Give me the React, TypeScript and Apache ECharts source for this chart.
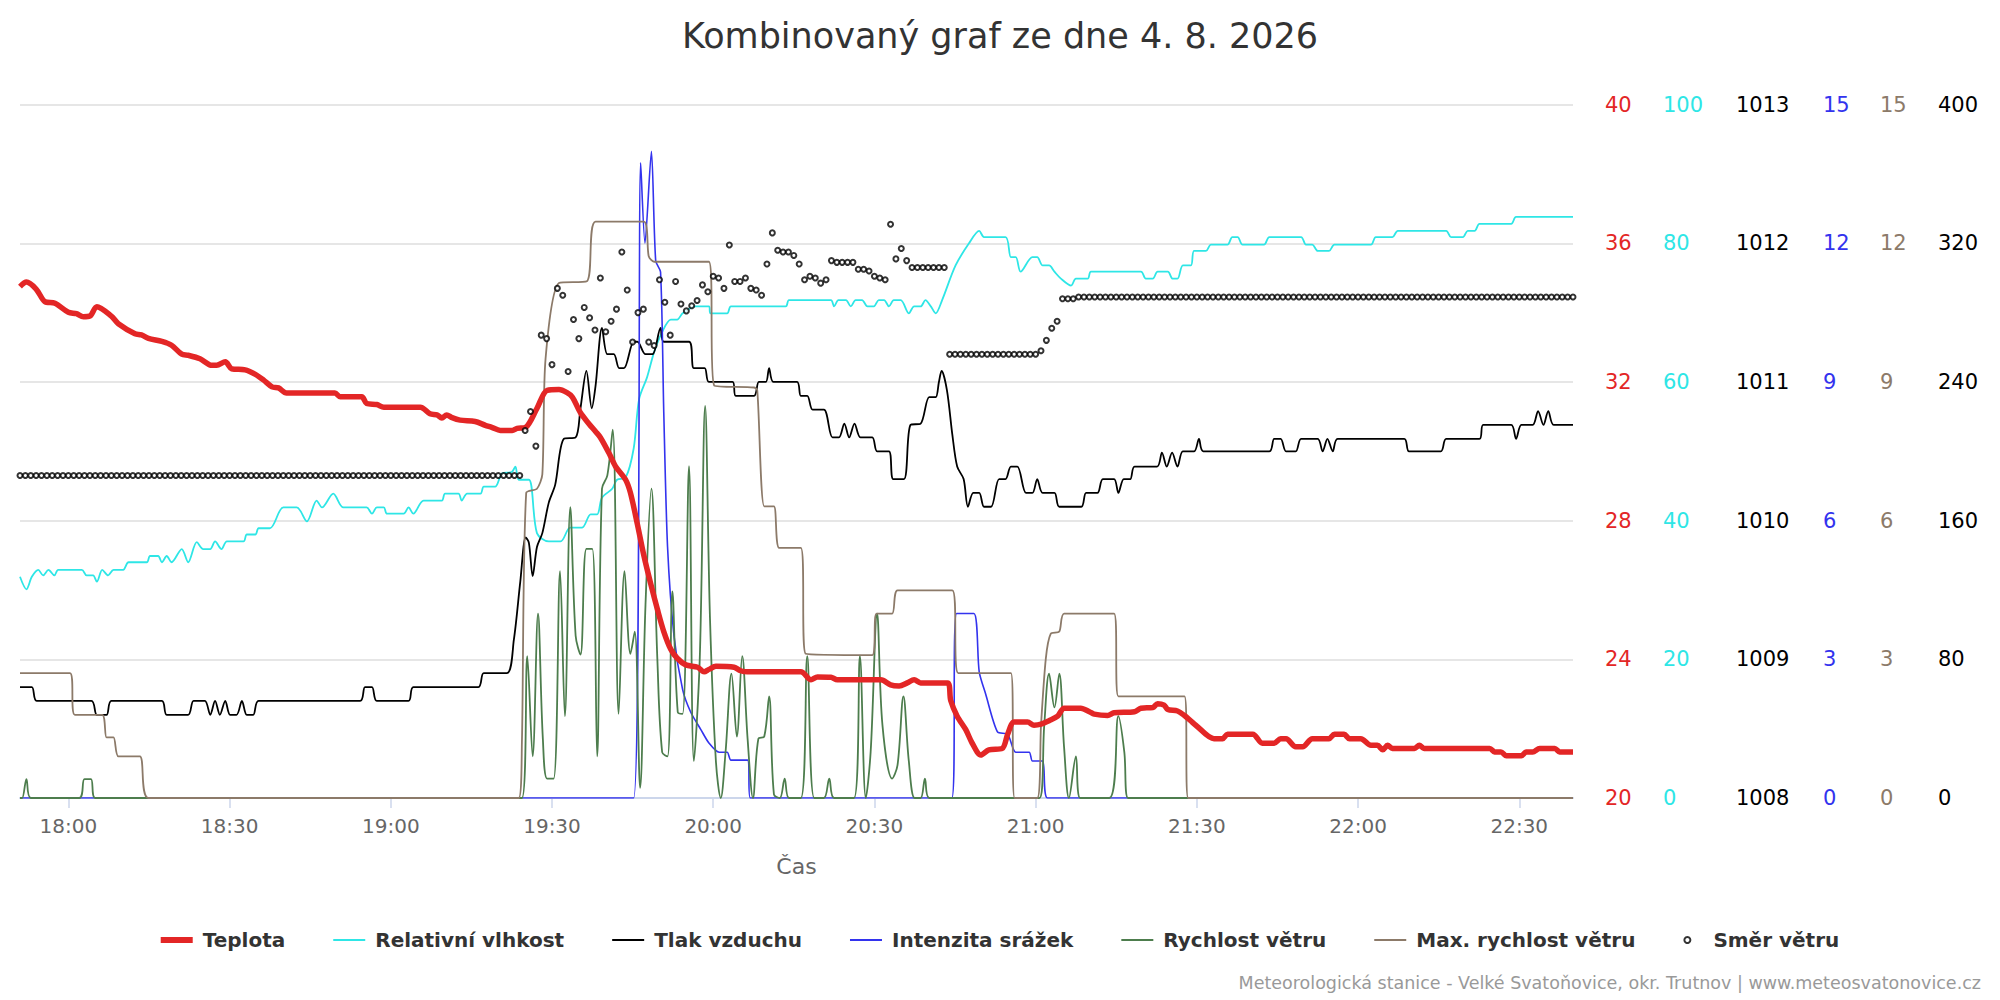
import React, { useEffect, useRef } from 'react';
import * as echarts from 'echarts';

const FONT = '"DejaVu Sans", Verdana, sans-serif';

// x values are minutes after 18:00 (negative = before 18:00)
const X_MIN = -9; // 17:51
const X_MAX = 280; // 22:40
const timeTicks = [0, 30, 60, 90, 120, 150, 180, 210, 240, 270];

const titleText = 'Kombinovaný graf ze dne 4. 8. 2026';
const creditsText = 'Meteorologická stanice - Velké Svatoňovice, okr. Trutnov | www.meteosvatonovice.cz';
const xAxisName = 'Čas';

const seriesNames = [
  'Teplota',
  'Relativní vlhkost',
  'Tlak vzduchu',
  'Intenzita srážek',
  'Rychlost větru',
  'Max. rychlost větru',
  'Směr větru',
];

// Teplota [°C]
const tempData = [
  [-9, 34.75], [-7.8, 34.88], [-6, 34.68], [-4.4, 34.32], [-2.5, 34.27], [0, 34.01], [1.5, 33.97], [2.8, 33.88], [4, 33.9],
  [5.3, 34.17], [8, 33.9], [9.3, 33.68], [12.4, 33.39], [13.6, 33.36], [14.9, 33.26], [17.4, 33.17], [19.2, 33.06],
  [21.1, 32.8], [22.3, 32.77], [24.5, 32.67], [26.7, 32.48], [27.6, 32.48], [29.2, 32.58], [30.4, 32.38], [32.9, 32.35],
  [34.8, 32.22], [36.3, 32.06], [37.9, 31.86], [39.1, 31.83], [40.6, 31.68], [49.6, 31.68], [50.6, 31.57], [54.6, 31.57],
  [55.5, 31.38], [57.4, 31.35], [58.7, 31.27], [65.5, 31.27], [67.3, 31.08], [68.6, 31.05], [69.5, 30.96], [70.4, 31.05],
  [71.4, 30.97], [72.9, 30.9], [75.7, 30.86], [77.6, 30.75], [78.8, 30.69], [80.4, 30.6], [82.6, 30.6], [83.5, 30.66],
  [85.1, 30.69], [87.2, 31.24], [89.1, 31.76], [91.3, 31.78], [92.8, 31.69], [93.8, 31.56], [95.3, 31.11], [96.9, 30.79],
  [98.1, 30.57], [99, 30.4], [100.6, 29.95], [101.8, 29.57], [103.7, 29.18], [104.6, 28.8], [105.9, 27.89], [107.1, 26.99],
  [108.4, 26.16], [109.6, 25.45], [110.8, 24.8], [112.1, 24.29], [113.3, 24.03], [114.9, 23.84], [117.1, 23.77],
  [118.3, 23.64], [119.2, 23.71], [120.5, 23.8], [123.9, 23.77], [125.1, 23.67], [126.4, 23.64], [136.3, 23.64],
  [138.2, 23.41], [139.4, 23.49], [141.9, 23.48], [143.1, 23.41], [151.2, 23.41], [153, 23.26], [154.6, 23.23],
  [156.1, 23.32], [157.4, 23.41], [158.6, 23.32], [163.6, 23.32], [164.2, 22.81], [165.4, 22.36], [167, 21.97],
  [168.2, 21.58], [169.8, 21.24], [171.3, 21.39], [173.8, 21.43], [174.8, 21.84], [176, 22.19], [178.5, 22.19],
  [179.7, 22.1], [181, 22.13], [182.5, 22.23], [184.1, 22.36], [185.3, 22.59], [188.4, 22.59], [190, 22.49],
  [190.9, 22.42], [193.4, 22.38], [194.6, 22.46], [198.4, 22.49], [199.6, 22.59], [201.8, 22.61], [202.7, 22.72],
  [203.9, 22.68], [204.6, 22.55], [206.4, 22.51], [207.7, 22.38], [208.9, 22.22], [209.8, 22.1], [213.2, 21.71],
  [214.8, 21.71], [215.7, 21.84], [220.4, 21.84], [222.2, 21.58], [224.4, 21.58], [225.6, 21.71], [226.6, 21.71],
  [228.4, 21.48], [229.7, 21.48], [231.5, 21.71], [234.6, 21.71], [235.6, 21.84], [237.4, 21.84], [238.4, 21.71],
  [240.5, 21.71], [242.4, 21.52], [243.6, 21.52], [244.6, 21.39], [245.5, 21.52], [246.4, 21.43], [250.5, 21.43],
  [251.4, 21.52], [252.3, 21.43], [264.5, 21.43], [265.4, 21.33], [266.6, 21.33], [267.6, 21.22], [270.4, 21.22],
  [271.3, 21.33], [272.5, 21.33], [273.8, 21.43], [276.6, 21.43], [277.5, 21.33], [280, 21.33],
];

// Relativní vlhkost [%]
const humidityData = [
  [-9, 31.9], [-7.8, 30.1], [-6.8, 31.9], [-5.6, 32.9], [-4.7, 32.1], [-3.7, 32.9], [-2.6, 32.1], [-1.9, 32.9], [2.5, 32.9],
  [3.4, 32.1], [4.6, 32.1], [5.3, 31.2], [6.3, 32.9], [7.4, 32.1], [8.4, 32.9], [10.2, 32.9], [11.2, 34], [14.6, 34],
  [15.2, 34.9], [16.7, 34.9], [17.4, 34], [18.3, 34.9], [19.2, 34], [21.1, 35.9], [22.3, 34], [23.9, 36.9], [25.1, 35.9],
  [26.4, 35.9], [27.3, 37], [28.5, 35.9], [29.5, 37], [32.6, 37], [33.2, 38], [34.8, 38], [35.4, 38.9], [37.5, 38.9],
  [40, 41.9], [42.5, 41.9], [44.4, 39.9], [46.2, 42.9], [47.2, 41.9], [49.3, 43.9], [51.2, 41.9], [55.5, 41.9], [56.5, 41],
  [57.4, 41.9], [58.7, 41.9], [59.3, 41], [62.4, 41], [63.3, 41.9], [64.2, 41], [66.1, 42.9], [69.5, 42.9], [70.1, 43.9],
  [72.6, 43.9], [73.2, 42.9], [74.2, 43.9], [76.7, 43.9], [77.3, 44.9], [79.4, 44.9], [80.7, 46.8], [82.5, 47],
  [83.2, 47.8], [83.8, 45.9], [85.7, 45.9], [87.2, 38.2], [89.4, 37], [91.6, 37], [93.4, 39], [95.6, 39], [97.2, 40.9],
  [98.4, 40.9], [99.3, 43.3], [101.2, 44.6], [102.1, 45.9], [103.7, 46.2], [105.2, 50.4], [106.2, 57.5], [107.7, 60.7],
  [109, 64.3], [110.5, 67.2], [112.1, 69], [113.3, 69], [114.3, 69.9], [116.7, 70.9], [119.2, 70.9], [119.5, 69.9],
  [122.6, 69.9], [123.3, 70.9], [133.5, 70.9], [134.1, 71.8], [141.9, 71.8], [142.5, 70.9], [143.3, 71.8], [144.7, 71.8],
  [145.6, 70.9], [146.5, 71.8], [147.7, 71.8], [148.7, 70.9], [149.9, 70.9], [150.8, 71.8], [151.8, 71.8], [152.7, 70.9],
  [153.6, 71.8], [154.9, 71.8], [156.4, 69.9], [157.4, 70.9], [158.6, 70.9], [159.5, 71.8], [160.5, 70.9], [161.4, 69.9],
  [162.6, 71.8], [165.1, 76.8], [167.6, 80], [169.5, 81.8], [170.4, 80.9], [174.4, 80.9], [175.4, 78], [176.3, 78],
  [177.2, 75.9], [179.4, 78], [180.3, 78], [181.3, 76.8], [182.5, 76.8], [183.5, 75.9], [184.7, 74.9], [186.6, 73.9],
  [187.5, 74.9], [189.7, 74.9], [190.3, 75.9], [199.6, 75.9], [200.5, 74.9], [201.8, 74.9], [202.7, 75.9], [204.6, 75.9],
  [205.5, 74.9], [206.4, 74.9], [207.4, 76.8], [208.9, 76.8], [209.5, 78.9], [211.7, 78.9], [212.6, 79.8], [215.7, 79.8],
  [216.6, 80.9], [217.6, 80.9], [218.5, 79.8], [222.5, 79.8], [223.5, 80.9], [229.4, 80.9], [230.3, 79.8], [231.5, 79.8],
  [232.5, 78.9], [234.6, 78.9], [235.6, 79.8], [242.4, 79.8], [243.3, 80.9], [246.4, 80.9], [247.4, 81.8], [256.4, 81.8],
  [257.3, 80.9], [259.5, 80.9], [260.4, 81.8], [261.7, 81.8], [262.6, 82.8], [268.5, 82.8], [269.4, 83.8], [280, 83.8],
];

// Tlak vzduchu [hPa]
const pressureData = [
  [-9, 1008.8], [-6.8, 1008.8], [-5.9, 1008.7], [4.3, 1008.7], [5.3, 1008.6], [7.1, 1008.6], [8, 1008.7], [17.4, 1008.7],
  [18.3, 1008.6], [22.3, 1008.6], [23.3, 1008.7], [25.4, 1008.7], [26.4, 1008.6], [27.3, 1008.7], [28.2, 1008.6],
  [29.2, 1008.7], [30.1, 1008.6], [31.3, 1008.6], [32.3, 1008.7], [33.2, 1008.6], [34.4, 1008.6], [35.4, 1008.7],
  [54.3, 1008.7], [55.2, 1008.8], [56.5, 1008.8], [57.4, 1008.7], [63.3, 1008.7], [64.2, 1008.8], [76.3, 1008.8],
  [77.3, 1008.9], [81.6, 1008.9], [82.9, 1009.14], [84.1, 1009.56], [85.1, 1009.88], [85.7, 1009.84], [86.4, 1009.6],
  [87.2, 1009.81], [88.2, 1009.91], [89.4, 1010.13], [90.6, 1010.26], [92.2, 1010.59], [94.4, 1010.6], [95.3, 1010.81],
  [96.4, 1011.08], [97.4, 1010.81], [98.1, 1010.97], [99.3, 1011.39], [100.3, 1011.2], [101.5, 1011.2], [102.5, 1011.1],
  [103.4, 1011.1], [105.2, 1011.29], [105.9, 1011.29], [107.4, 1011.2], [108.7, 1011.2], [110.2, 1011.39],
  [110.8, 1011.29], [115.5, 1011.29], [116.4, 1011.1], [118.4, 1011.1], [119.2, 1011], [123.6, 1011], [124.2, 1010.9],
  [127.6, 1010.9], [128.5, 1011], [129.8, 1011], [130.4, 1011.1], [131.2, 1011], [135.6, 1011], [136.3, 1010.9],
  [137.5, 1010.9], [138.5, 1010.8], [140.6, 1010.8], [142.2, 1010.6], [143.4, 1010.6], [144.4, 1010.7], [145.3, 1010.6],
  [146.3, 1010.7], [147.4, 1010.6], [149.6, 1010.6], [150.5, 1010.5], [152.7, 1010.5], [153.5, 1010.3], [155.5, 1010.3],
  [156.7, 1010.69], [158.6, 1010.7], [160.2, 1010.89], [161.4, 1010.89], [162, 1011], [162.5, 1011.08], [163.5, 1010.94],
  [164.5, 1010.62], [165.4, 1010.39], [166.6, 1010.3], [167.4, 1010.1], [168.4, 1010.2], [169.5, 1010.2], [170.4, 1010.1],
  [171.7, 1010.1], [173.2, 1010.3], [174.4, 1010.3], [175.4, 1010.39], [176.6, 1010.39], [178.2, 1010.2], [179.4, 1010.2],
  [180.3, 1010.3], [181.3, 1010.2], [183.5, 1010.2], [184.4, 1010.1], [188.5, 1010.1], [189.4, 1010.2], [191.5, 1010.2],
  [192.5, 1010.3], [194.6, 1010.3], [195.4, 1010.2], [196.4, 1010.3], [197.6, 1010.3], [198.4, 1010.39], [202.6, 1010.39],
  [203.5, 1010.49], [204.4, 1010.39], [205.4, 1010.49], [206.4, 1010.39], [207.4, 1010.5], [209.5, 1010.5],
  [210.4, 1010.59], [211.2, 1010.5], [223.5, 1010.5], [224.4, 1010.59], [225.6, 1010.59], [226.6, 1010.5], [228.4, 1010.5],
  [229.4, 1010.59], [232.5, 1010.59], [233.4, 1010.5], [234.3, 1010.59], [235.3, 1010.5], [236.2, 1010.59],
  [248.6, 1010.59], [249.5, 1010.5], [255.4, 1010.5], [256.4, 1010.59], [262.6, 1010.59], [263.3, 1010.69],
  [268.5, 1010.69], [269.4, 1010.59], [270.4, 1010.69], [272.5, 1010.69], [273.5, 1010.79], [274.5, 1010.69],
  [275.4, 1010.79], [276.4, 1010.69], [280, 1010.69],
];

// Intenzita srážek [mm/h]
const rainData = [
  [-9, 0], [105.2, 0], [106.5, 13.74], [107.3, 12.0], [108.5, 13.99], [109.3, 11.62], [110.2, 11.38], [110.8, 8.34],
  [111.5, 5.44], [112.7, 3.51], [114.3, 2.35], [115.8, 1.86], [117.7, 1.48], [119.2, 1.19], [121.1, 0.99], [122.6, 0.99],
  [123.3, 0.82], [126.4, 0.82], [126.9, 0], [164.4, 0], [165.3, 3.99], [168.5, 3.99], [169.5, 2.73], [170.7, 2.25],
  [172.9, 1.43], [174.8, 1.38], [176.3, 0.99], [178.8, 0.99], [179.4, 0.8], [181.3, 0.8], [182.2, 0], [280, 0],
];

// Rychlost větru [m/s]
const windData = [
  [-9, 0], [-8.6, 0], [-7.8, 0.41], [-7.0, 0], [2.0, 0], [3.0, 0.41], [4.2, 0.41], [5.0, 0], [84.4, 0], [85.4, 3.07],
  [86.4, 0.9], [87.4, 3.99], [88.3, 1.28], [89.1, 0.42], [90.3, 0.42], [91.5, 4.91], [92.4, 1.77], [93.4, 6.29],
  [94.4, 3.51], [95.3, 3.1], [96.4, 5.39], [97.5, 5.39], [98.4, 0.9], [99.3, 6.69], [100.3, 6.98], [101.3, 7.97],
  [102.4, 1.82], [103.5, 4.91], [104.6, 3.12], [105.4, 3.6], [106.4, 0.22], [107.4, 4.18], [108.5, 6.69], [109.6, 3.02],
  [110.5, 0.99], [111.5, 0.9], [112.4, 4.47], [113.4, 1.86], [114.3, 1.82], [115.5, 7.18], [116.4, 0.8], [117.5, 3.02],
  [118.5, 8.48], [119.4, 3.89], [120.5, 0.8], [121.4, 0], [122.3, 1.0], [123.4, 2.69], [124.4, 1.33], [125.4, 3.07],
  [126.4, 1.28], [127.4, 0], [128.4, 1.28], [129.5, 1.33], [130.4, 2.2], [131.3, 0.08], [132.4, 0], [133.3, 0.42],
  [134.1, 0], [136.3, 0], [137.5, 3.07], [138.8, 0], [140.6, 0], [141.6, 0.42], [142.5, 0], [146.2, 0], [147.3, 3.07],
  [148.4, 0], [149.3, 1.0], [150.5, 3.99], [151.5, 1.57], [153.3, 0.42], [154.3, 0.71], [155.4, 2.2], [156.4, 0.8],
  [157.5, 0], [158.6, 0], [159.4, 0.42], [160.2, 0], [180.7, 0], [181.6, 1.57], [182.5, 2.69], [183.5, 1.96],
  [184.4, 2.69], [185.3, 1.09], [186.2, 0], [187.5, 0.9], [188.3, 0], [193.7, 0], [195.4, 1.77], [196.5, 1.0],
  [197.2, 0], [280, 0],
];

// Max. rychlost větru [m/s]
const gustData = [
  [-9, 2.7], [0.3, 2.7], [1.2, 1.8], [6.3, 1.8], [7.1, 1.31], [8.4, 1.31], [9.3, 0.9], [13.3, 0.9], [14.9, 0], [83.8, 0],
  [84.4, 1.2], [85.2, 6.6], [87.2, 6.69], [88.2, 7], [88.8, 9.5], [91.3, 11.14], [96.5, 11.18], [98.1, 12.47],
  [107.1, 12.47], [108, 11.72], [109, 11.6], [119.2, 11.6], [120.2, 8.92], [127.6, 8.88], [128.2, 8.82], [129.5, 6.31],
  [131.3, 6.31], [132.3, 5.41], [136.3, 5.41], [137.2, 3.12], [149.6, 3.09], [150.4, 3.99], [153.3, 3.99], [154.3, 4.49],
  [164.5, 4.49], [165.6, 2.7], [175.4, 2.7], [176.1, 0], [180.3, 0], [181, 1.57], [181.9, 3.02], [182.8, 3.55],
  [184.4, 3.6], [185.3, 3.99], [194.6, 3.99], [195.4, 2.2], [207.7, 2.2], [208.4, 0], [280, 0],
];

// Směr větru [°], one value per minute from 17:51 (t = -9)
const windDirStart = -9;
const windDirDeg = [
  186, 186, 186, 186, 186, 186, 186, 186, 186, 186, 186, 186, 186, 186, 186, 186, 186, 186, 186, 186,
  186, 186, 186, 186, 186, 186, 186, 186, 186, 186, 186, 186, 186, 186, 186, 186, 186, 186, 186, 186,
  186, 186, 186, 186, 186, 186, 186, 186, 186, 186, 186, 186, 186, 186, 186, 186, 186, 186, 186, 186,
  186, 186, 186, 186, 186, 186, 186, 186, 186, 186, 186, 186, 186, 186, 186, 186, 186, 186, 186, 186,
  186, 186, 186, 186, 186, 186, 186, 186, 186, 186, 186, 186, 186, 186,
  212, 223, 203, 267, 265, 250, 294, 290, 246, 276, 265, 283, 277, 270, 300, 269, 275, 282, 315, 293,
  263, 280, 282, 263, 261, 299, 286, 267, 298, 285, 281, 284, 287, 296, 292, 301, 300, 294, 319, 298,
  298, 300, 294, 293, 290, 308, 326, 316, 315, 315, 313, 308, 299, 301, 300, 297, 299, 310, 309, 309,
  309, 309, 305, 305, 304, 301, 300, 299, 331, 311, 317, 310, 306, 306, 306, 306, 306, 306, 306,
  256, 256, 256, 256, 256, 256, 256, 256, 256, 256, 256, 256, 256, 256, 256, 256, 256,
  258, 264, 271, 275, 288, 288, 288,
  289, 289, 289, 289, 289, 289, 289, 289, 289, 289, 289, 289, 289, 289, 289, 289, 289, 289, 289, 289,
  289, 289, 289, 289, 289, 289, 289, 289, 289, 289, 289, 289, 289, 289, 289, 289, 289, 289, 289, 289,
  289, 289, 289, 289, 289, 289, 289, 289, 289, 289, 289, 289, 289, 289, 289, 289, 289, 289, 289, 289,
  289, 289, 289, 289, 289, 289, 289, 289, 289, 289, 289, 289, 289, 289, 289, 289, 289, 289, 289, 289,
  289, 289, 289, 289, 289, 289, 289, 289, 289, 289, 289, 289, 289,
];

// Axis scales (min, max, step) for the six right-hand axes
const tempAxis = [20, 40, 4];
const humidityAxis = [0, 100, 20];
const pressureAxis = [1008, 1013, 1];
const rainAxis = [0, 15, 3];
const windAxis = [0, 15, 3];
const dirAxis = [0, 400, 80];

const COLORS = {
  temp: '#e32626',
  hum: '#2ee6e6',
  pres: '#000000',
  rain: '#3333ee',
  wind: '#4d7d4d',
  gust: '#8c7a69',
  dir: '#000000',
};

function fmtTime(v: number) {
  const total = 18 * 60 + Math.round(v);
  const h = Math.floor(total / 60);
  const m = total % 60;
  return `${h}:${m < 10 ? '0' + m : m}`;
}

function buildOption() {
  const axisScales = [tempAxis, humidityAxis, pressureAxis, rainAxis, windAxis, dirAxis];
  const axisColors = [COLORS.temp, COLORS.hum, '#000000', COLORS.rain, COLORS.gust, '#000000'];
  const labelMargins = [32, 90, 163, 250, 307, 365];

  const yAxis = axisScales.map((s, i) => ({
    type: 'value',
    position: 'right',
    min: s[0],
    max: s[1],
    interval: s[2],
    axisLine: { show: false },
    axisTick: { show: false },
    splitLine: { show: i === 0, lineStyle: { color: '#e6e6e6', width: 2 } },
    axisLabel: {
      color: axisColors[i],
      fontSize: 21,
      fontFamily: FONT,
      margin: labelMargins[i],
      formatter: (v: number) => String(v),
    },
  }));

  const thinIcon = 'path://M0,0h32v2h-32z';

  return {
    animation: false,
    backgroundColor: '#ffffff',
    textStyle: { fontFamily: FONT },
    title: {
      text: titleText,
      left: 'center',
      top: 13,
      textStyle: { fontFamily: FONT, fontSize: 35, fontWeight: 'normal', color: '#333333' },
    },
    grid: { left: 20, right: 427, top: 104.6, bottom: 202, containLabel: false },
    legend: {
      left: 'center',
      top: 925,
      itemWidth: 32,
      itemHeight: 6,
      itemGap: 48,
      itemStyle: { borderWidth: 0 },
      textStyle: { fontFamily: FONT, fontSize: 20, fontWeight: 'bold', color: '#333333', padding: [0, 0, 0, 5] },
      data: [
        { name: seriesNames[0], icon: 'rect' },
        { name: seriesNames[1], icon: thinIcon },
        { name: seriesNames[2], icon: thinIcon },
        { name: seriesNames[3], icon: thinIcon },
        { name: seriesNames[4], icon: thinIcon },
        { name: seriesNames[5], icon: thinIcon },
        { name: seriesNames[6], icon: 'emptyCircle' },
      ],
    },
    xAxis: {
      type: 'value',
      min: X_MIN,
      max: X_MAX,
      name: xAxisName,
      nameLocation: 'middle',
      nameGap: 57,
      nameTextStyle: { color: '#666666', fontSize: 22, fontFamily: FONT },
      axisLine: { show: true, onZero: false, lineStyle: { color: '#ccd6eb', width: 2 } },
      axisTick: { show: true, length: 10, customValues: timeTicks, lineStyle: { color: '#ccd6eb', width: 1.5 } },
      axisLabel: {
        customValues: timeTicks,
        formatter: (v: number) => fmtTime(v),
        color: '#666666',
        fontSize: 20,
        fontFamily: FONT,
        margin: 18,
      },
      splitLine: { show: false },
    },
    yAxis,
    graphic: [
      {
        type: 'text',
        right: 19,
        top: 974,
        style: { text: creditsText, fill: '#999999', font: `17.5px ${FONT}` },
      },
    ],
    series: [
      {
        name: seriesNames[0], type: 'line', yAxisIndex: 0, data: tempData, color: COLORS.temp,
        symbol: 'none', smooth: 0.3, lineStyle: { width: 5.5, color: COLORS.temp }, z: 3,
      },
      {
        name: seriesNames[1], type: 'line', yAxisIndex: 1, data: humidityData, color: COLORS.hum,
        symbol: 'none', smooth: 0.3, lineStyle: { width: 1.8, color: COLORS.hum }, z: 2,
      },
      {
        name: seriesNames[2], type: 'line', yAxisIndex: 2, data: pressureData, color: COLORS.pres,
        symbol: 'none', smooth: 0.3, lineStyle: { width: 1.8, color: COLORS.pres }, z: 2,
      },
      {
        name: seriesNames[3], type: 'line', yAxisIndex: 3, data: rainData, color: COLORS.rain,
        symbol: 'none', smooth: 0.25, lineStyle: { width: 1.6, color: COLORS.rain }, z: 2,
      },
      {
        name: seriesNames[4], type: 'line', yAxisIndex: 4, data: windData, color: COLORS.wind,
        symbol: 'none', smooth: 0.35, lineStyle: { width: 1.8, color: COLORS.wind }, z: 2,
      },
      {
        name: seriesNames[5], type: 'line', yAxisIndex: 4, data: gustData, color: COLORS.gust,
        symbol: 'none', smooth: 0.25, lineStyle: { width: 1.8, color: COLORS.gust }, z: 2,
      },
      {
        name: seriesNames[6], type: 'scatter', yAxisIndex: 5,
        data: windDirDeg.map((v, i) => [windDirStart + i, v]),
        color: COLORS.dir, symbol: 'emptyCircle', symbolSize: 5,
        itemStyle: { color: COLORS.dir, borderColor: COLORS.dir, borderWidth: 1.3 }, z: 4,
      },
    ],
  };
}

export default function App() {
  const ref = useRef<HTMLDivElement>(null);
  useEffect(() => {
    if (!ref.current) return;
    const chart = echarts.init(ref.current, null, { renderer: 'svg' });
    chart.setOption(buildOption() as any);
    return () => chart.dispose();
  }, []);
  return (
    <div
      ref={ref}
      style={{ position: 'fixed', left: 0, top: 0, width: 2000, height: 1000, background: '#ffffff' }}
    />
  );
}
